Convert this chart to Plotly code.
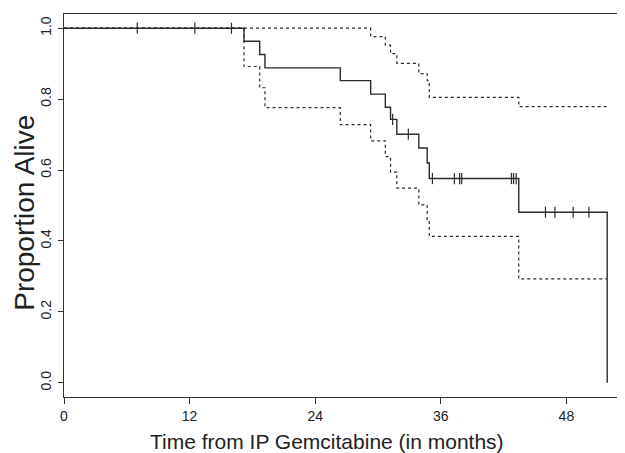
import plotly.graph_objects as go
import bisect

# Kaplan-Meier estimate (months, proportion alive)
km_time = [0, 17.2, 18.7, 19.2, 26.4, 29.3, 30.7, 31.2, 31.8, 33.9, 34.7, 34.9, 43.45, 51.9]
km_surv = [1.0, 0.963, 0.926, 0.888, 0.852, 0.814, 0.777, 0.743, 0.701, 0.662, 0.620, 0.576, 0.481, 0.0]

# Upper 95% confidence limit
up_time = [0, 29.3, 30.7, 31.2, 31.8, 33.9, 34.7, 34.9, 43.45, 51.9]
up_surv = [1.0, 0.976, 0.952, 0.928, 0.901, 0.872, 0.852, 0.805, 0.779, 0.779]

# Lower 95% confidence limit
lo_time = [0, 17.2, 18.7, 19.2, 26.4, 29.3, 30.7, 31.2, 31.8, 33.9, 34.7, 34.9, 43.45, 51.9]
lo_surv = [1.0, 0.892, 0.832, 0.776, 0.728, 0.682, 0.638, 0.594, 0.549, 0.502, 0.46, 0.413, 0.293, 0.293]

# Censored observations (months)
censor_time = [7.0, 12.5, 16.0, 31.4, 32.9, 35.2, 37.3, 37.8, 38.0, 42.75, 42.95, 43.2,
               46.0, 46.9, 48.65, 50.15]

x_ticks = [0, 12, 24, 36, 48]
y_ticks = [0.0, 0.2, 0.4, 0.6, 0.8, 1.0]
y_tick_text = ["0.0", "0.2", "0.4", "0.6", "0.8", "1.0"]

x_title = "Time from IP Gemcitabine (in months)"
y_title = "Proportion Alive"


def step_value(t):
    i = bisect.bisect_right(km_time, t) - 1
    return km_surv[i]


censor_surv = [step_value(t) for t in censor_time]

LINE = "#2b2b2b"
FONT = "Liberation Sans, Arial, Helvetica, sans-serif"

fig = go.Figure()
fig.add_trace(go.Scatter(x=up_time, y=up_surv, mode="lines", line_shape="hv",
                         line=dict(color=LINE, width=1.2, dash="3px,3px"), showlegend=False))
fig.add_trace(go.Scatter(x=lo_time, y=lo_surv, mode="lines", line_shape="hv",
                         line=dict(color=LINE, width=1.2, dash="3px,3px"), showlegend=False))
fig.add_trace(go.Scatter(x=km_time, y=km_surv, mode="lines", line_shape="hv",
                         line=dict(color=LINE, width=1.4), showlegend=False))
fig.add_trace(go.Scatter(x=censor_time, y=censor_surv, mode="markers",
                         marker=dict(symbol="line-ns", size=8,
                                     line=dict(color=LINE, width=1.2)),
                         showlegend=False))

fig.update_layout(
    width=617, height=445,
    margin=dict(l=56, r=0, t=6, b=56),
    plot_bgcolor="white", paper_bgcolor="white",
    font=dict(family=FONT, color="#222", size=14),
    xaxis=dict(range=[0, 53.6], tickvals=x_ticks, ticks="outside", ticklen=6,
               tickcolor="#333", showgrid=False, zeroline=False, automargin=False,
               showline=True, linecolor="#333", linewidth=1.2, mirror=True,
               tickfont=dict(size=14)),
    yaxis=dict(range=[-0.04, 1.04], tickvals=y_ticks, ticktext=y_tick_text,
               ticks="outside", ticklen=5, tickcolor="#333", tickangle=-90,
               showgrid=False, zeroline=False, automargin=False,
               showline=True, linecolor="#333", linewidth=1.2,
               tickfont=dict(size=14), ticklabelstandoff=1),
    annotations=[
        dict(text=x_title, xref="paper", yref="paper", x=0.469, y=-0.1166,
             xanchor="center", yanchor="middle", showarrow=False,
             font=dict(size=21, family=FONT, color="#222")),
        dict(text=y_title, xref="paper", yref="paper", x=-0.0695, y=0.481,
             xanchor="center", yanchor="middle", showarrow=False, textangle=-90,
             font=dict(size=28, family=FONT, color="#222")),
    ],
)

fig.write_html("out.html")
